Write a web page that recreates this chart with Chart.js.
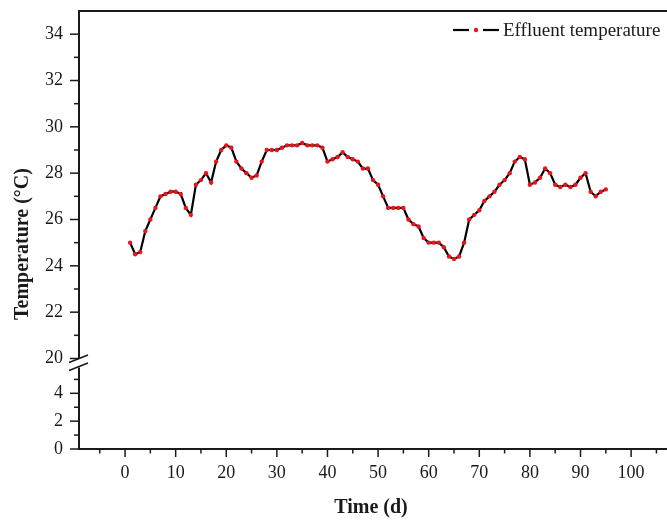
<!DOCTYPE html>
<html>
<head>
<meta charset="utf-8">
<script src="https://cdn.jsdelivr.net/npm/chart.js@4.4.1/dist/chart.umd.min.js"></script>
<style>
  html, body { margin: 0; padding: 0; background: #fff; overflow: hidden; }
  #wrap { width: 667px; height: 521px; }
</style>
</head>
<body>
<div id="wrap"><canvas id="c"></canvas></div>
<script>
// Effluent temperature, one reading per day
const days = [];
for (let d = 1; d <= 95; d++) days.push(d);
const temps = [
  25.0, 24.5, 24.6, 25.5, 26.0, 26.5, 27.0, 27.1, 27.2, 27.2,
  27.1, 26.5, 26.2, 27.5, 27.7, 28.0, 27.6, 28.5, 29.0, 29.2,
  29.1, 28.5, 28.2, 28.0, 27.8, 27.9, 28.5, 29.0, 29.0, 29.0,
  29.1, 29.2, 29.2, 29.2, 29.3, 29.2, 29.2, 29.2, 29.1, 28.5,
  28.6, 28.7, 28.9, 28.7, 28.6, 28.5, 28.2, 28.2, 27.7, 27.5,
  27.0, 26.5, 26.5, 26.5, 26.5, 26.0, 25.8, 25.7, 25.2, 25.0,
  25.0, 25.0, 24.8, 24.4, 24.3, 24.4, 25.0, 26.0, 26.2, 26.4,
  26.8, 27.0, 27.2, 27.5, 27.7, 28.0, 28.5, 28.7, 28.6, 27.5,
  27.6, 27.8, 28.2, 28.0, 27.5, 27.4, 27.5, 27.4, 27.5, 27.8,
  28.0, 27.2, 27.0, 27.2, 27.3
];

// tick labels
const xTicks = [0, 10, 20, 30, 40, 50, 60, 70, 80, 90, 100];
const xMinorTicks = [-5, 5, 15, 25, 35, 45, 55, 65, 75, 85, 95, 105];
const yUpperTicks = [20, 22, 24, 26, 28, 30, 32, 34];
const yUpperMinor = [21, 23, 25, 27, 29, 31, 33];
const yLowerTicks = [0, 2, 4];
const yLowerMinor = [1, 3, 5];

const FONT = "'Liberation Serif', 'Times New Roman', serif";
const INK = '#1a1a1a';

// no extra label padding, the layout padding decides the plot box
const noPad = s => { s.paddingTop = 0; s.paddingBottom = 0; s.paddingLeft = 0; s.paddingRight = 0; };

const axisPlugin = {
  id: 'axisPlugin',
  afterDraw(chart) {
    const { ctx, chartArea: a, scales } = chart;
    const sx = scales.x, yu = scales.y, yl = scales.y2;
    const line = (x1, y1, x2, y2) => {
      ctx.beginPath(); ctx.moveTo(x1, y1); ctx.lineTo(x2, y2); ctx.stroke();
    };
    ctx.save();
    ctx.strokeStyle = INK;
    ctx.lineCap = 'butt';

    // frame + broken left axis
    ctx.lineWidth = 2;
    line(a.left - 1, a.top, chart.width, a.top);
    line(a.left - 1, a.bottom, chart.width, a.bottom);
    const breakTop = yu.getPixelForValue(20);
    const breakBot = yl.getPixelForValue(5.85);
    line(a.left, a.top, a.left, breakTop);
    line(a.left, breakBot, a.left, a.bottom);

    // break marks
    ctx.lineWidth = 1.6;
    line(a.left - 10, breakTop + 4, a.left + 9, breakTop - 3.5);
    line(a.left - 10, breakBot + 3, a.left + 9, breakBot - 4.5);

    // ticks
    ctx.lineWidth = 1.5;
    xTicks.forEach(v => { const p = sx.getPixelForValue(v); line(p, a.bottom, p, a.bottom + 8); });
    xMinorTicks.forEach(v => { const p = sx.getPixelForValue(v); line(p, a.bottom, p, a.bottom + 4.5); });
    yUpperTicks.forEach(v => { const p = yu.getPixelForValue(v); line(a.left - 9, p, a.left, p); });
    yUpperMinor.forEach(v => { const p = yu.getPixelForValue(v); line(a.left - 5, p, a.left, p); });
    yLowerTicks.forEach(v => { const p = yl.getPixelForValue(v); line(a.left - 9, p, a.left, p); });
    yLowerMinor.forEach(v => { const p = yl.getPixelForValue(v); line(a.left - 5, p, a.left, p); });

    // y title
    ctx.save();
    ctx.fillStyle = INK;
    ctx.font = "bold 20px " + FONT;
    ctx.textAlign = 'center';
    ctx.textBaseline = 'middle';
    ctx.translate(23, 244);
    ctx.rotate(-Math.PI / 2);
    ctx.fillText('Temperature (°C)', 0, 0);
    ctx.restore();

    // legend
    const ly = 30;
    ctx.strokeStyle = '#000';
    ctx.lineWidth = 2.2;
    line(453, ly, 469, ly);
    line(483, ly, 499, ly);
    ctx.fillStyle = '#e8141c';
    ctx.beginPath(); ctx.arc(476, ly, 2.2, 0, Math.PI * 2); ctx.fill();
    ctx.fillStyle = INK;
    ctx.font = "19px " + FONT;
    ctx.textAlign = 'left';
    ctx.textBaseline = 'middle';
    ctx.fillText('Effluent temperature', 503, ly + 1);
    ctx.restore();
  }
};

new Chart(document.getElementById('c'), {
  type: 'line',
  data: {
    datasets: [{
      label: 'Effluent temperature',
      data: days.map((d, i) => ({ x: d, y: temps[i] })),
      yAxisID: 'y',
      borderColor: '#000',
      borderWidth: 2.2,
      tension: 0,
      pointRadius: 2.2,
      pointBackgroundColor: '#e8141c',
      pointBorderColor: '#e8141c',
      pointBorderWidth: 0
    }]
  },
  options: {
    responsive: true,
    maintainAspectRatio: false,
    animation: false,
    layout: { padding: { top: 11, right: -5, left: 0, bottom: 0 } },
    plugins: { legend: { display: false }, tooltip: { enabled: false } },
    scales: {
      x: {
        type: 'linear',
        min: -9.1,
        max: 106.3,
        afterBuildTicks: s => { s.ticks = xTicks.map(v => ({ value: v })); },
        afterFit: s => { s.height = 72; noPad(s); },
        grid: { display: false, drawTicks: false },
        border: { display: false },
        ticks: { color: INK, font: { family: FONT, size: 18 }, padding: 13, maxRotation: 0 },
        title: { display: true, text: 'Time (d)', color: INK, font: { family: FONT, size: 20, weight: 'bold' }, padding: { top: 0, bottom: 1 } }
      },
      y: {
        type: 'linear',
        position: 'left',
        stack: 'left',
        stackWeight: 347.5,
        weight: 2,
        min: 20,
        max: 35,
        afterBuildTicks: s => { s.ticks = yUpperTicks.map(v => ({ value: v })); },
        afterFit: s => { s.width = 79; noPad(s); },
        grid: { display: false, drawTicks: false },
        border: { display: false },
        ticks: { color: INK, font: { family: FONT, size: 18 }, padding: 16 }
      },
      y2: {
        type: 'linear',
        position: 'left',
        stack: 'left',
        stackWeight: 90.5,
        weight: 1,
        min: 0,
        max: 6.5,
        afterBuildTicks: s => { s.ticks = yLowerTicks.map(v => ({ value: v })); },
        afterFit: s => { s.width = 79; noPad(s); },
        grid: { display: false, drawTicks: false },
        border: { display: false },
        ticks: { color: INK, font: { family: FONT, size: 18 }, padding: 16 }
      }
    }
  },
  plugins: [axisPlugin]
});
</script>
</body>
</html>
